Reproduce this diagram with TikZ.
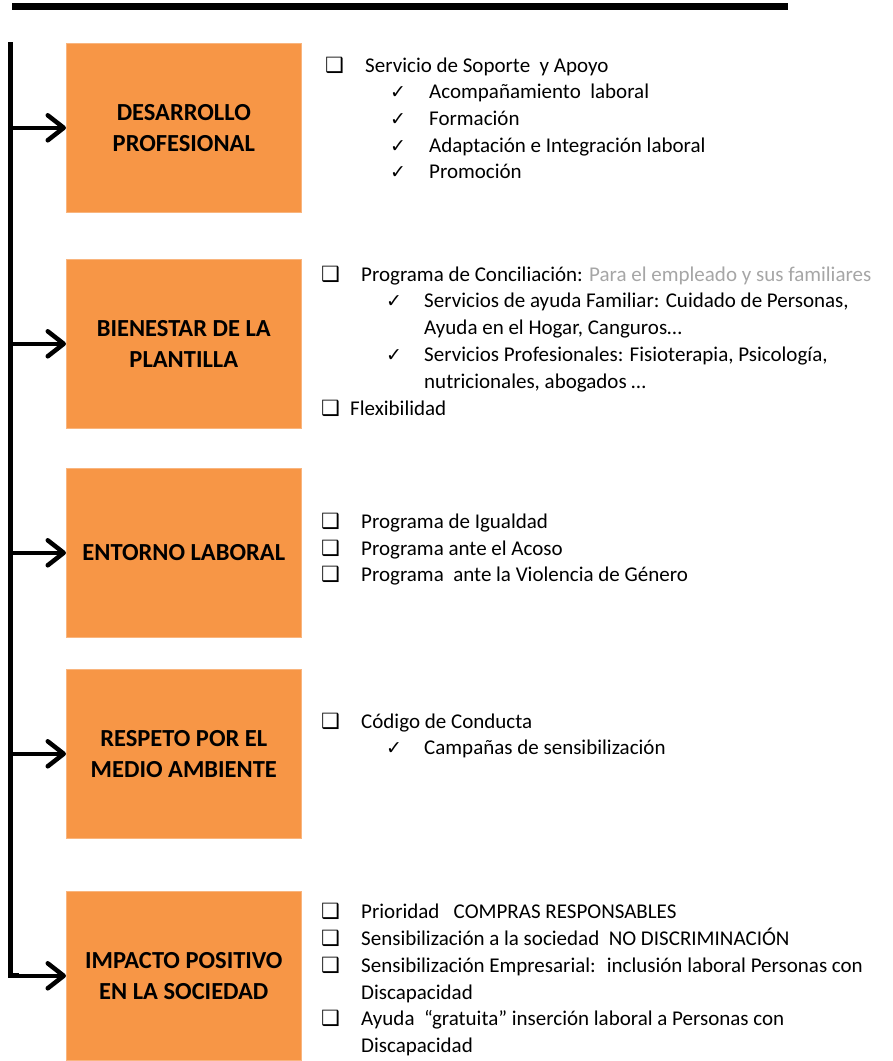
\documentclass[tikz,border=0pt]{standalone}
\usepackage{fontspec}
\setmainfont{Carlito}
\newfontfamily\symfont{DejaVu Sans}
\usetikzlibrary{arrows.meta}
\definecolor{boxorange}{HTML}{F79646}
\definecolor{softgray}{HTML}{A6A6A6}
\begin{document}
\begin{tikzpicture}[x=1pt,y=-1pt,
  catbox/.style={fill=boxorange, draw=boxorange!70!white, line width=0.6pt,
    minimum width=235pt, minimum height=169pt, anchor=north west, align=center,
    inner sep=0pt, font=\bfseries\fontsize{24.5}{31}\selectfont},
  itemtext/.style={anchor=base west, inner sep=0pt, font=\fontsize{21}{26}\selectfont},
  sqbullet/.style={anchor=base west, inner sep=0pt, font=\symfont\bfseries\fontsize{21}{21}\selectfont},
  ckbullet/.style={anchor=base west, inner sep=0pt, font=\symfont\fontsize{19}{19}\selectfont},
  trunkline/.style={line width=4.8pt, line join=miter},
  branch/.style={line width=4.5pt, line cap=round,
    -{Straight Barb[length=16pt,width=25pt,line cap=round,line join=round]}},
]
\useasboundingbox (0,0) rectangle (893,1061);

% top rule
\fill[black] (12,3) rectangle (788,10);

% category boxes
\node[catbox] (b1) at (66,43)  {DESARROLLO\\PROFESIONAL};
\node[catbox] (b2) at (66,259) {BIENESTAR DE LA\\PLANTILLA};
\node[catbox] (b3) at (66,468) {ENTORNO LABORAL};
\node[catbox] (b4) at (66,669) {RESPETO POR EL\\MEDIO AMBIENTE};
\node[catbox] (b5) at (66,891) {IMPACTO POSITIVO\\EN LA SOCIEDAD};

% trunk and branches
\coordinate (ttop) at (10.8,42);
\draw[trunkline] (ttop) -- (ttop |- b5.west) -- ++(8,0);
\draw[branch] (ttop |- b1.west) -- (b1.west);
\draw[branch] (ttop |- b2.west) -- (b2.west);
\draw[branch] (ttop |- b3.west) -- (b3.west);
\draw[branch] (ttop |- b4.west) -- (b4.west);
\draw[branch] (ttop |- b5.west) -- (b5.west);

% block 1
\node[sqbullet] (s11) at (325,72) {❑};
\node[itemtext] (t11) at (365,72) {Servicio de Soporte \ y Apoyo};
\node[ckbullet] (c11) at (390,98) {✓};
\node[itemtext] (t12) at (429,98) {Acompañamiento \ laboral};
\node[ckbullet] (c12) at (390,125) {✓};
\node[itemtext] (t13) at (429,125) {Formación};
\node[ckbullet] (c13) at (390,152) {✓};
\node[itemtext] (t14) at (429,152) {Adaptación e Integración laboral};
\node[ckbullet] (c14) at (390,178) {✓};
\node[itemtext] (t15) at (429,178) {Promoción};

% block 2
\node[sqbullet] (s21) at (321,281) {❑};
\node[itemtext] (t21) at (361,281) {Programa de Conciliación: \textcolor{softgray}{Para el empleado y sus familiares}};
\node[ckbullet] (c21) at (386,307) {✓};
\node[itemtext] (t22) at (424,307) {Servicios de ayuda Familiar: Cuidado de Personas,};
\node[itemtext] (t23) at (424,334) {Ayuda en el Hogar, Canguros…};
\node[ckbullet] (c22) at (386,361) {✓};
\node[itemtext] (t24) at (424,361) {Servicios Profesionales: Fisioterapia, Psicología,};
\node[itemtext] (t25) at (424,388) {nutricionales, abogados …};
\node[sqbullet] (s22) at (321,415) {❑};
\node[itemtext] (t26) at (350,415) {Flexibilidad};

% block 3
\node[sqbullet] (s31) at (321,528) {❑};
\node[itemtext] (t31) at (361,528) {Programa de Igualdad};
\node[sqbullet] (s32) at (321,555) {❑};
\node[itemtext] (t32) at (361,555) {Programa ante el Acoso};
\node[sqbullet] (s33) at (321,581) {❑};
\node[itemtext] (t33) at (361,581) {Programa \ ante la Violencia de Género};

% block 4
\node[sqbullet] (s41) at (321,728) {❑};
\node[itemtext] (t41) at (361,728) {Código de Conducta};
\node[ckbullet] (c41) at (386,754) {✓};
\node[itemtext] (t42) at (424,754) {Campañas de sensibilización};

% block 5
\node[sqbullet] (s51) at (321,918) {❑};
\node[itemtext] (t51) at (361,918) {Prioridad \ \ COMPRAS RESPONSABLES};
\node[sqbullet] (s52) at (321,945) {❑};
\node[itemtext] (t52) at (361,945) {Sensibilización a la sociedad \ NO DISCRIMINACIÓN};
\node[sqbullet] (s53) at (321,972) {❑};
\node[itemtext] (t53) at (361,972) {Sensibilización Empresarial: \ inclusión laboral Personas con};
\node[itemtext] (t54) at (361,999) {Discapacidad};
\node[sqbullet] (s54) at (321,1025) {❑};
\node[itemtext] (t55) at (361,1025) {Ayuda \ “gratuita” inserción laboral a Personas con};
\node[itemtext] (t56) at (361,1052) {Discapacidad};
\end{tikzpicture}
\end{document}
